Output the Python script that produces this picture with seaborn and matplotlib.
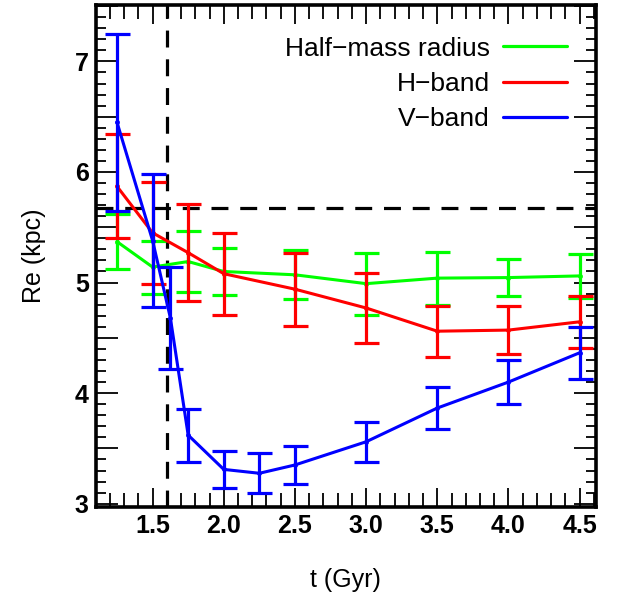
import pandas as pd
import matplotlib
matplotlib.use("Agg")
import matplotlib.pyplot as plt
from matplotlib.ticker import MultipleLocator, FuncFormatter
import seaborn as sns

# Data
t_half = [1.25, 1.5, 1.75, 2.0, 2.5, 3.0, 3.5, 4.0, 4.5]
re_half = [5.37, 5.14, 5.19, 5.10, 5.07, 4.99, 5.04, 5.045, 5.06]
err_half = [0.25, 0.24, 0.28, 0.21, 0.22, 0.28, 0.24, 0.165, 0.20]

t_h = [1.25, 1.5, 1.75, 2.0, 2.5, 3.0, 3.5, 4.0, 4.5]
re_h = [5.87, 5.45, 5.27, 5.08, 4.94, 4.77, 4.56, 4.57, 4.645]
err_h = [0.47, 0.46, 0.44, 0.37, 0.33, 0.32, 0.23, 0.22, 0.235]

t_v = [1.25, 1.5, 1.625, 1.75, 2.0, 2.25, 2.5, 3.0, 3.5, 4.0, 4.5]
re_v = [6.45, 5.38, 4.68, 3.62, 3.31, 3.275, 3.35, 3.56, 3.865, 4.10, 4.365]
err_v = [0.80, 0.60, 0.46, 0.24, 0.17, 0.18, 0.17, 0.18, 0.19, 0.20, 0.235]

series_names = ["Half\u2212mass radius", "H\u2212band", "V\u2212band"]
series_colors = ["#00ff00", "#ff0000", "#0000ff"]

t_mark = 1.6
re_mark = 5.67

sns.set_style("ticks")
plt.rcParams['font.family'] = ['Liberation Sans', 'DejaVu Sans']
plt.rcParams['xtick.direction'] = 'in'
plt.rcParams['ytick.direction'] = 'in'
plt.rcParams['xtick.top'] = True
plt.rcParams['ytick.right'] = True
for key in ['text.color', 'axes.labelcolor', 'xtick.color', 'ytick.color',
            'axes.edgecolor']:
    plt.rcParams[key] = 'black'

frames = []
for name, t, r, e in zip(series_names, [t_half, t_h, t_v],
                         [re_half, re_h, re_v], [err_half, err_h, err_v]):
    frames.append(pd.DataFrame({'t': t, 're': r, 'err': e, 'series': name}))
df = pd.concat(frames, ignore_index=True)

fig = plt.figure(figsize=(6.17, 5.99), dpi=100)
ax = fig.add_axes([0.155, 0.1536, 0.811, 0.838])

# reference lines
ax.axvline(t_mark, color='black', lw=2.3, ls=(0, (5.3, 3.7)), zorder=1)
ax.axhline(re_mark, color='black', lw=2.3, ls=(0, (5.3, 3.7)), zorder=1)

palette = dict(zip(series_names, series_colors))
for i, name in enumerate(series_names):
    sub = df[df['series'] == name]
    ax.errorbar(sub['t'], sub['re'], yerr=sub['err'], fmt='none',
                ecolor=palette[name], elinewidth=2.3, capsize=9,
                capthick=2.3, zorder=2 + i)
    sns.lineplot(data=sub, x='t', y='re', color=palette[name], lw=2.2,
                 marker='o', markersize=3.5, markeredgewidth=0,
                 label=name, ax=ax, zorder=2 + i, errorbar=None, sort=False)

ax.set_xlim(1.1, 4.615)
ax.set_ylim(2.97, 7.51)

ax.xaxis.set_major_locator(MultipleLocator(0.5))
ax.xaxis.set_minor_locator(MultipleLocator(0.1))
ax.yaxis.set_major_locator(MultipleLocator(0.5))
ax.yaxis.set_minor_locator(MultipleLocator(0.1))
ax.xaxis.set_major_formatter(FuncFormatter(lambda v, p: f"{v:.1f}"))
ax.yaxis.set_major_formatter(
    FuncFormatter(lambda v, p: f"{v:.0f}" if abs(v - round(v)) < 1e-6 else ""))

ax.tick_params(which='major', axis='x', length=14, width=1.3, pad=5)
ax.tick_params(which='minor', axis='x', length=10, width=1.3)
ax.tick_params(which='major', axis='y', length=16, width=1.3, pad=5)
ax.tick_params(which='minor', axis='y', length=7, width=1.3)
for lab in ax.get_xticklabels() + ax.get_yticklabels():
    lab.set_fontweight('bold')
    lab.set_fontsize(18)

for sp in ax.spines.values():
    sp.set_linewidth(2.6)
    sp.set_color('black')

ax.set_xlabel("t (Gyr)", fontsize=18, labelpad=22)
ax.set_ylabel("Re (kpc)", fontsize=18, labelpad=21)

leg = ax.legend(loc='upper right', frameon=False, markerfirst=False,
                fontsize=19, handlelength=2.45, handletextpad=0.5,
                labelspacing=0.42, borderaxespad=0, borderpad=0,
                bbox_to_anchor=(0.943, 0.937))
for line in leg.get_lines():
    line.set_marker('')
    line.set_linewidth(2.3)

fig.savefig("out.png", dpi=100)
